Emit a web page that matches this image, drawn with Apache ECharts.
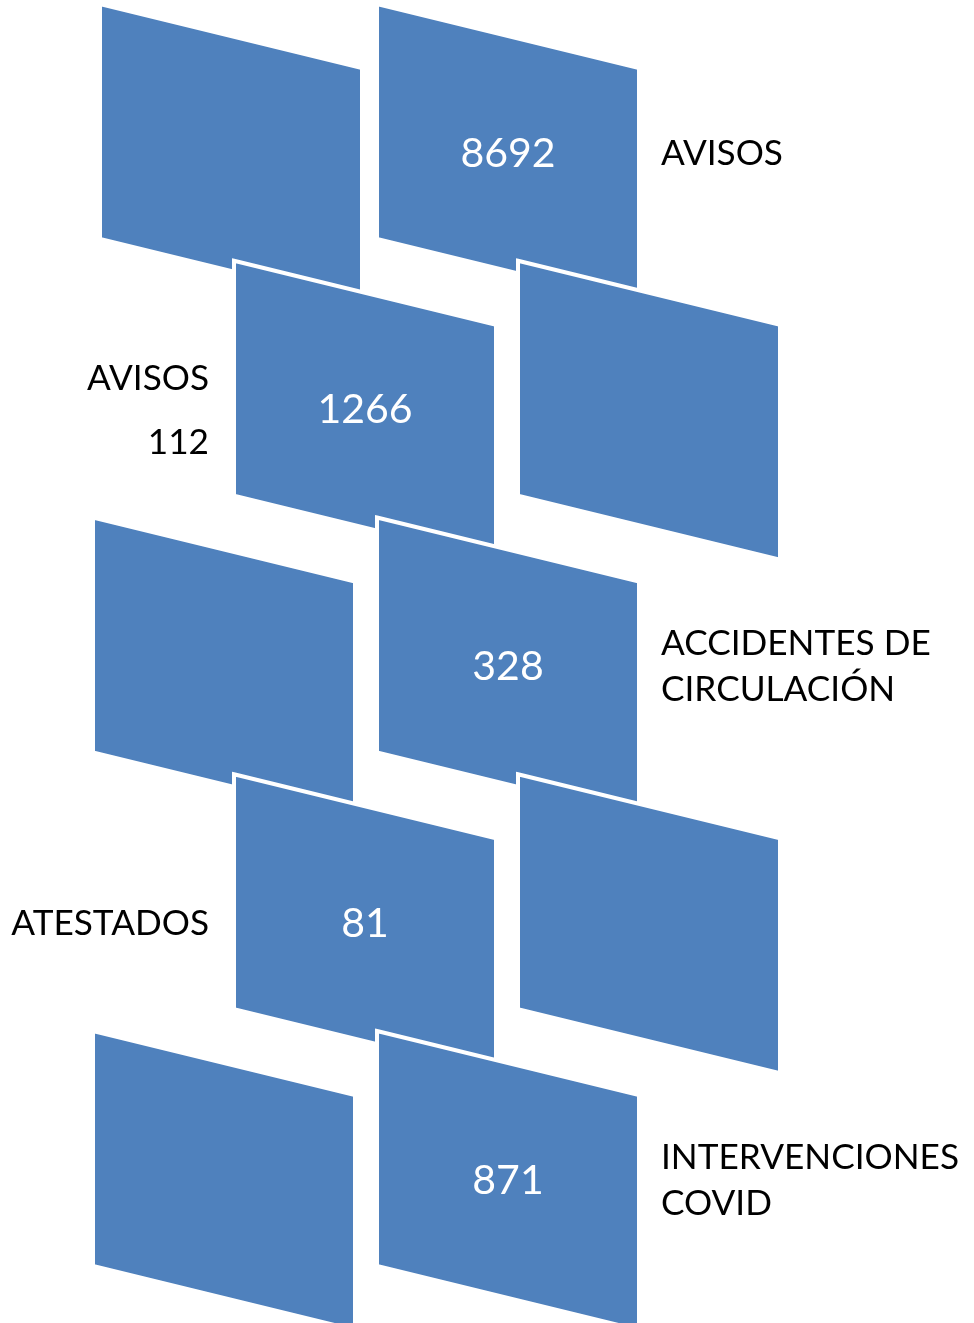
<!DOCTYPE html>
<html>
<head>
<meta charset="utf-8">
<script src="https://cdn.jsdelivr.net/npm/echarts@6/dist/echarts.min.js"></script>
<style>
html, body { margin: 0; padding: 0; background: #fff; }
#chart { width: 974px; height: 1323px; }
</style>
</head>
<body>
<div id="chart"></div>
<script>
// cifras por fila (de arriba abajo)
const rowValues = [8692, 1266, 328, 81, 871];
const rowLabels = ['AVISOS', 'AVISOS\n112', 'ACCIDENTES DE\nCIRCULACIÓN', 'ATESTADOS', 'INTERVENCIONES\nCOVID'];

const chart = echarts.init(document.getElementById('chart'));

const BLUE = '#4F81BD';
const ROW_STEP = 256.75;
const BOX_W = 258, BOX_H = 231, DROP = 64, PAD = 2;

// paralelogramo (coords visibles del relleno, el borde blanco va por fuera)
function box(api, x, y, z2) {
    const pts = [
        [x - PAD, y - PAD],
        [x + BOX_W + PAD, y + DROP - PAD],
        [x + BOX_W + PAD, y + DROP + BOX_H + PAD],
        [x - PAD, y + BOX_H + PAD]
    ].map(p => api.coord(p));
    return {
        type: 'polygon',
        z2: z2,
        shape: { points: pts },
        style: { fill: BLUE, stroke: '#fff', lineWidth: 4 }
    };
}

const option = {
    animation: false,
    grid: { left: 0, right: 0, top: 0, bottom: 0 },
    xAxis: { type: 'value', min: 0, max: 974, show: false },
    yAxis: { type: 'value', min: 0, max: 1323, inverse: true, show: false },
    series: [{
        type: 'custom',
        coordinateSystem: 'cartesian2d',
        data: rowValues.map((v, i) => [i, v]),
        encode: { x: 0, y: 0 },
        renderItem(params, api) {
            const row = api.value(0);
            const even = row % 2 === 0;
            const top = 6 + row * ROW_STEP;
            const mainX = even ? 379 : 236;
            const sideX = even ? (row === 0 ? 102 : 95) : 520;
            const cy = top + (DROP + BOX_H) / 2;
            const numPos = api.coord([mainX + BOX_W / 2, cy]);
            const labPos = api.coord([even ? 661 : 209, cy]);
            return {
                type: 'group',
                children: [
                    box(api, sideX, top, row * 10),
                    box(api, mainX, top, row * 10 + 1),
                    {
                        type: 'text',
                        z2: 100,
                        x: numPos[0],
                        y: numPos[1],
                        style: {
                            text: String(api.value(1)),
                            fill: '#fff',
                            fontFamily: 'Lato',
                            fontSize: 41,
                            align: 'center',
                            verticalAlign: 'middle'
                        }
                    },
                    {
                        type: 'text',
                        z2: 100,
                        x: labPos[0],
                        y: labPos[1],
                        style: {
                            text: rowLabels[row],
                            fill: '#000',
                            fontFamily: 'Lato',
                            fontSize: 35.2,
                            lineHeight: row === 1 ? 64 : 46,
                            align: even ? 'left' : 'right',
                            verticalAlign: 'middle'
                        }
                    }
                ]
            };
        }
    }]
};

chart.setOption(option);
</script>
</body>
</html>
